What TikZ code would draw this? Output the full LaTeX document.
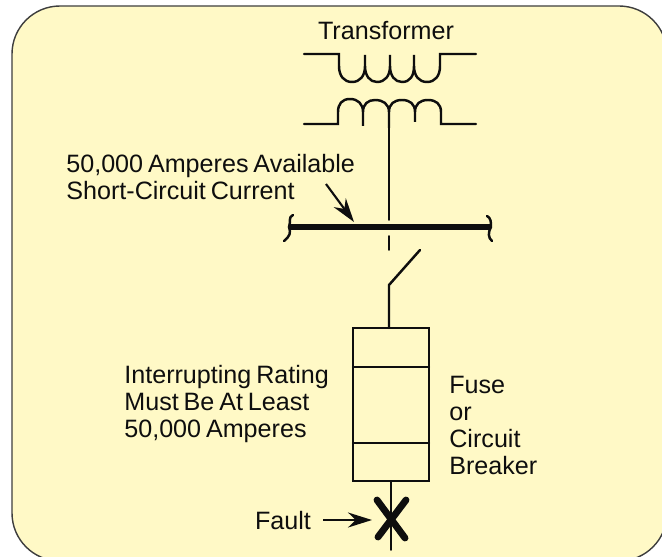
\documentclass[tikz,border=0pt]{standalone}
\usepackage{xcolor}
\usepackage{fontspec}
\setmainfont[WordSpace=0.7]{Liberation Sans}
\usetikzlibrary{calc,arrows.meta}
\definecolor{panel}{HTML}{FFF9C6}
\definecolor{ink}{HTML}{0E0E0E}
\tikzset{
  frame/.style={draw=ink!80, fill=panel, line width=0.8pt, rounded corners=0.96cm},
  wire/.style={draw=ink, line width=1.4pt, line cap=round},
  thin wire/.style={draw=ink, line width=1pt, line cap=round},
  bus/.style={draw=ink, line width=3.7pt},
  cross/.style={draw=ink, line width=3.9pt, line cap=round},
  pointer/.style={draw=ink, line width=1.2pt, -{Stealth[length=0.48cm,width=0.3cm]}},
  lab/.style={text=ink, font=\fontsize{14.3}{15.3}\selectfont, inner sep=0pt},
  leftlab/.style={lab, align=left, anchor=north west},
}
\begin{document}
\begin{tikzpicture}[x=0.02cm,y=-0.02cm]
  \useasboundingbox (0,0) rectangle (662,557);
  \path[frame] (12,561) -- (12,6) -- (667,6) -- (667,561) -- cycle;

  % transformer
  \node[lab] (xfmrlab) at (386,31) {Transformer};
  \draw[wire] (304,54) -- (339,54) -- (339,66) .. controls (339,76) and (344,82) .. (352,82)
    .. controls (360,82) and (365,76) .. (365,66) -- (365,55) -- (365,66)
    .. controls (365,76) and (370,82) .. (377,82)
    .. controls (385,82) and (390,76) .. (390,66) -- (390,55) -- (390,66)
    .. controls (390,76) and (395,82) .. (402,82)
    .. controls (410,82) and (414,76) .. (414,66) -- (414,55) -- (414,66)
    .. controls (414,76) and (419,82) .. (427,82)
    .. controls (435,82) and (440,76) .. (440,66) -- (440,54) -- (476,54);
  \draw[wire] (304,124) -- (338,124) -- (338,112) .. controls (338,104) and (342,99) .. (350,99)
    .. controls (358,99) and (363,104) .. (363,112) -- (363,126) -- (363,112)
    .. controls (363,104) and (368,100) .. (375,100)
    .. controls (383,100) and (389,104) .. (389,112) -- (389,128) -- (389,112)
    .. controls (389,104) and (394,100) .. (402,100)
    .. controls (410,100) and (415,104) .. (415,112) -- (415,122) -- (415,112)
    .. controls (415,104) and (420,100) .. (428,100)
    .. controls (436,100) and (441,104) .. (441,112) -- (441,124) -- (476,124);

  % feeder and bus
  \coordinate (feedtop) at (389,128);
  \coordinate (feedbot) at (389,220);
  \draw[thin wire] (feedtop) -- (feedbot);
  \coordinate (busl) at (289,227);
  \coordinate (busr) at (491,227);
  \draw[bus] (busl) -- (busr);
  \draw[wire] (293,215) .. controls (288,217) and (291,222) .. (289,227)
    .. controls (291,233) and (290,236) .. (284,241);
  \draw[wire] (487,216) .. controls (491,218) and (491,222) .. (491,227)
    .. controls (488,232) and (488,238) .. (492,241);
  \draw[thin wire] (389,236) -- (389,250);

  % disconnect
  \coordinate (swtip) at (420,250);
  \coordinate (swpiv) at (389,285);
  \coordinate (fusetop) at (389,328);
  \draw[wire] (swtip) -- (swpiv) -- (fusetop);

  % fuse body
  \draw[wire, line cap=butt] (353,328) rectangle (429,481);
  \draw[wire] (353,367) -- (429,367);
  \draw[wire] (353,443) -- (429,443);

  % fault
  \coordinate (fusebot) at (391,481);
  \coordinate (wireend) at (391,550);
  \draw[thin wire] (fusebot) -- (wireend);
  \draw[cross] (377,500) -- (405,538);
  \draw[cross] (406,500) -- (378,537);

  % labels
  \node[leftlab] (availlab) at (66,154) {50,000 Amperes Available\\Short-Circuit Current};
  \node[leftlab] (ratinglab) at (124,365) {Interrupting Rating\\Must Be At Least\\50,000 Amperes};
  \node[leftlab] (fuselab) at (449,376) {Fuse\\or\\Circuit\\Breaker};
  \node[lab] (faultlab) at (283,521) {Fault};

  \coordinate (availstart) at (326,184);
  \coordinate (availend) at (354,222);
  \draw[pointer] (availstart) -- (availend);
  \coordinate (faultstart) at (323,520);
  \coordinate (faultend) at (372,520);
  \draw[pointer] (faultstart) -- (faultend);
\end{tikzpicture}
\end{document}
